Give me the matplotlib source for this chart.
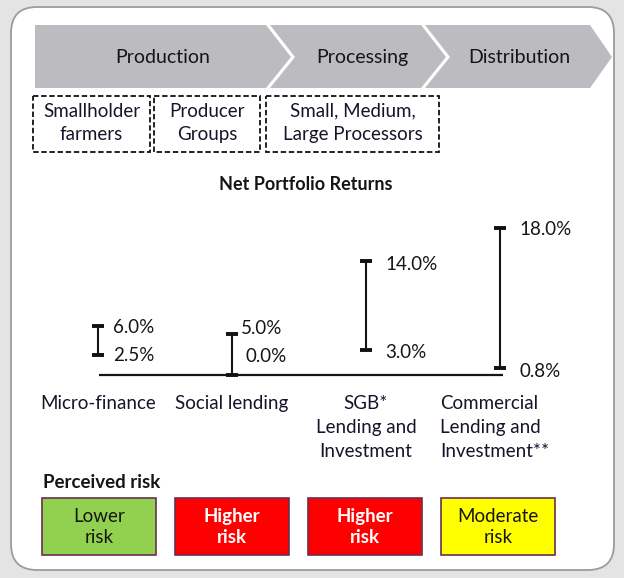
import matplotlib.pyplot as plt
from matplotlib.patches import Polygon, Rectangle, FancyBboxPatch

plt.rcParams['font.family'] = ['Lato', 'DejaVu Sans']

# value chain stages and actors
stages = ['Production', 'Processing', 'Distribution']
actors = ['Smallholder\nfarmers', 'Producer\nGroups', 'Small, Medium,\nLarge Processors']

# net portfolio returns (%)
categories = ['Micro-finance', 'Social lending', 'SGB*\nLending and\nInvestment',
              'Commercial\nLending and\nInvestment**']
low = [2.5, 0.0, 3.0, 0.8]
high = [6.0, 5.0, 14.0, 18.0]

# perceived risk
risk_labels = ['Lower\nrisk', 'Higher\nrisk', 'Higher\nrisk', 'Moderate\nrisk']
risk_colors = ['#92d050', '#ff0000', '#ff0000', '#ffff00']
risk_text = ['#151515', 'white', 'white', '#151515']

TXT = '#151515'
FS = 13.5

W, H = 624, 578
fig = plt.figure(figsize=(W / 100, H / 100), dpi=100)
fig.patch.set_facecolor('#e4e4e4')

# background axes in pixel units for the diagram parts
bg = fig.add_axes([0, 0, 1, 1])
bg.set_xlim(0, W)
bg.set_ylim(H, 0)
bg.axis('off')

panel = FancyBboxPatch((11, 7), 603, 563, boxstyle='round,pad=0,rounding_size=26',
                       fc='white', ec='#9c9c9c', lw=1.3)
bg.add_patch(panel)

# chevrons
gray = '#bcbcc0'
top, mid, bot = 25, 57, 88
chev = [(35, 266, 25), (270, 421, 25), (425, 590, 22)]
for i, (x0, x1, d) in enumerate(chev):
    if i == 0:
        pts = [(x0, top), (x1, top), (x1 + d, mid), (x1, bot), (x0, bot)]
    else:
        pts = [(x0, top), (x1, top), (x1 + d, mid), (x1, bot), (x0, bot), (x0 + 25, mid)]
    bg.add_patch(Polygon(pts, closed=True, fc=gray, ec='none'))
stage_x = [163, 362, 519]
for s, x in zip(stages, stage_x):
    bg.text(x, 63, s, ha='center', va='baseline', fontsize=14, color=TXT)

# dashed actor boxes
boxes = [(33, 150), (154, 260), (266, 439)]
for a, (x0, x1) in zip(actors, boxes):
    bg.add_patch(Rectangle((x0, 96), x1 - x0, 56, fill=False, ec='#111111', lw=1.3,
                           ls=(0, (3, 1.5))))
    bg.text((x0 + x1) / 2, 123, a, ha='center', va='center', fontsize=FS,
            linespacing=1.45, color='#15152a')

bg.text(306, 184, 'Net Portfolio Returns', ha='center', va='center', fontsize=13,
        fontweight='bold', color=TXT)

# perceived risk boxes
bg.text(43, 483, 'Perceived risk', ha='left', va='center', fontsize=13.5,
        fontweight='bold', color=TXT)
risk_x = [42, 175, 308, 441]
for lab, c, tc, x in zip(risk_labels, risk_colors, risk_text, risk_x):
    bg.add_patch(Rectangle((x, 498), 114, 57, fc=c, ec='#6a3050', lw=1.2))
    bg.text(x + 57, 527, lab, ha='center', va='center', fontsize=FS, color=tc,
            linespacing=1.3, fontweight='bold' if tc == 'white' else 'normal')

# range chart axes
step = 134.0
x_first = 98.0
y0px = 375.0
ppu = 8.17
ax = fig.add_axes([(x_first - step / 2) / W, (H - (y0px + ppu)) / H,
                   4 * step / W, 20 * ppu / H])
ax.set_xlim(-0.5, 3.5)
ax.set_ylim(-1, 19)
ax.axis('off')
ax.patch.set_alpha(0)

xs = list(range(len(categories)))
ax.hlines(0, xs[0] + 0.01, xs[-1] + 0.02, color=TXT, lw=1.6)
ax.vlines(xs, low, high, color=TXT, lw=1.5)
ax.plot(xs, low, ls='none', marker='_', ms=9, mew=2.8, color='#111111')
ax.plot(xs, high, ls='none', marker='_', ms=9, mew=2.8, color='#111111')

lab_dx = [15, 9, 19, 19]           # px to the right of the bar
lo_dx = [15, 13, 19, 19]
hi_dy = [-2, 6, -4, -2]            # px upward shift
lo_dy = [-1, 19, -2, -3]
for i in xs:
    ax.annotate(f'{high[i]:.1f}%', (i, high[i]), xytext=(lab_dx[i] * 0.72, hi_dy[i] * 0.72),
                textcoords='offset points', ha='left', va='center', fontsize=FS,
                color=TXT)
    ax.annotate(f'{low[i]:.1f}%', (i, low[i]), xytext=(lo_dx[i] * 0.72, lo_dy[i] * 0.72),
                textcoords='offset points', ha='left', va='center', fontsize=FS,
                color=TXT)

for i, c in enumerate(categories):
    if i == 3:
        ax.annotate(c, (i, 0), xytext=(-60 * 0.72, -20 * 0.72), textcoords='offset points',
                    ha='left', va='top', fontsize=FS, linespacing=1.5, color='#15152a')
    else:
        ax.annotate(c, (i, 0), xytext=(0, -20 * 0.72), textcoords='offset points',
                    ha='center', va='top', fontsize=FS, linespacing=1.5, color='#15152a')

fig.savefig('out.png', dpi=100, facecolor=fig.get_facecolor())
